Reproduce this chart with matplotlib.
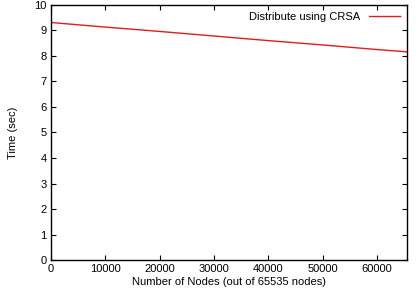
import matplotlib
matplotlib.use("Agg")
import matplotlib.pyplot as plt

nodes = [0, 10000, 20000, 30000, 40000, 50000, 60000, 65535]
time_crsa = [9.31, 9.13, 8.96, 8.78, 8.60, 8.43, 8.25, 8.16]
xticks = [0, 10000, 20000, 30000, 40000, 50000, 60000]
yticks = list(range(0, 11))

plt.rcParams['font.family'] = ['Liberation Sans', 'DejaVu Sans']
plt.rcParams['font.size'] = 8

fig = plt.figure(figsize=(4.18, 2.88), dpi=100)
ax = fig.add_axes([0.122, 0.097, 0.852, 0.886])
ax.plot(nodes, time_crsa, color='#e41a1c', lw=1.0, label='Distribute using CRSA')
ax.set_xlim(0, 65535)
ax.set_ylim(0, 10)
ax.set_xticks(xticks)
ax.set_yticks(yticks)
ax.tick_params(direction='in', top=True, right=True, length=3.5, width=0.8, pad=3)
for s in ax.spines.values():
    s.set_linewidth(1.0)
ax.set_xlabel('Number of Nodes (out of 65535 nodes)', labelpad=2)
ax.set_ylabel('Time (sec)', labelpad=12)
leg = ax.legend(loc='upper right', frameon=False, markerfirst=False, handlelength=2.8,
                borderaxespad=0.2, handletextpad=0.8)
fig.savefig('out.png', dpi=100)
